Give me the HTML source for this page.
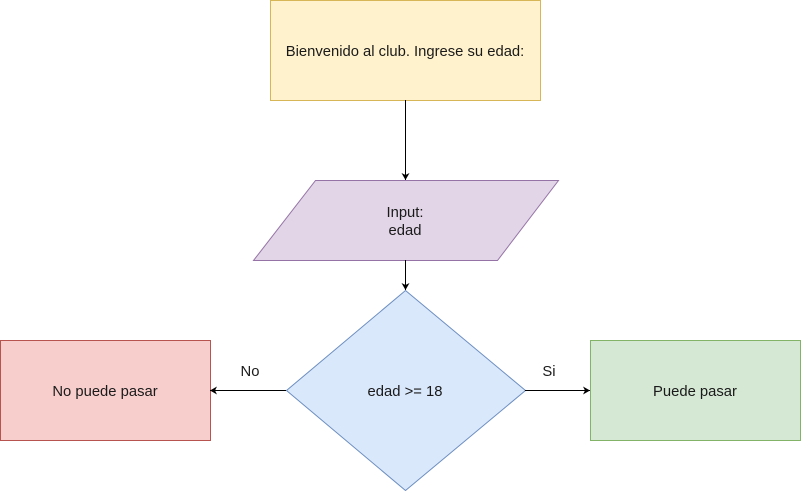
<!DOCTYPE html>
<html><head><meta charset="utf-8"><style>html,body{margin:0;padding:0;background:#fff;}svg{display:block;}text{font-family:"Liberation Sans",Arial,sans-serif;font-size:14.8px;fill:#1a1a1a;}</style></head>
<body>
<svg width="801" height="491" viewBox="0 0 801 491" xmlns="http://www.w3.org/2000/svg">
<defs><marker id="a" markerWidth="10" markerHeight="10" refX="8" refY="5" orient="auto" markerUnits="userSpaceOnUse"><path d="M1,1 L8,5 L1,9 L3,5 Z" fill="#000"/></marker></defs>
<rect x="270.5" y="0.5" width="270" height="100" fill="#fff2cc" stroke="#d6b656"/>
<text x="405" y="56" text-anchor="middle">Bienvenido al club. Ingrese su edad:</text>
<line x1="405.5" y1="100" x2="405.5" y2="180" stroke="#000" marker-end="url(#a)"/>
<polygon points="315.5,180.5 558.5,180.5 497.5,260.5 253.5,260.5" fill="#e1d5e7" stroke="#9673a6"/>
<text x="405" y="217" text-anchor="middle">Input:</text>
<text x="405" y="235" text-anchor="middle">edad</text>
<line x1="405.5" y1="260" x2="405.5" y2="290" stroke="#000" marker-end="url(#a)"/>
<polygon points="405.5,290.5 525.5,390.5 405.5,490.5 286.5,390.5" fill="#dae8fc" stroke="#6c8ebf"/>
<text x="405" y="396" text-anchor="middle">edad &gt;= 18</text>
<rect x="0.5" y="340.5" width="210" height="100" fill="#f8cecc" stroke="#b85450"/>
<text x="105" y="396" text-anchor="middle">No puede pasar</text>
<rect x="590.5" y="340.5" width="210" height="100" fill="#d5e8d4" stroke="#82b366"/>
<text x="695" y="396" text-anchor="middle">Puede pasar</text>
<line x1="286" y1="390.5" x2="210" y2="390.5" stroke="#000" marker-end="url(#a)"/>
<line x1="525" y1="390.5" x2="590" y2="390.5" stroke="#000" marker-end="url(#a)"/>
<text x="250" y="376" text-anchor="middle">No</text>
<text x="549" y="376" text-anchor="middle">Si</text>
</svg>
</body></html>
